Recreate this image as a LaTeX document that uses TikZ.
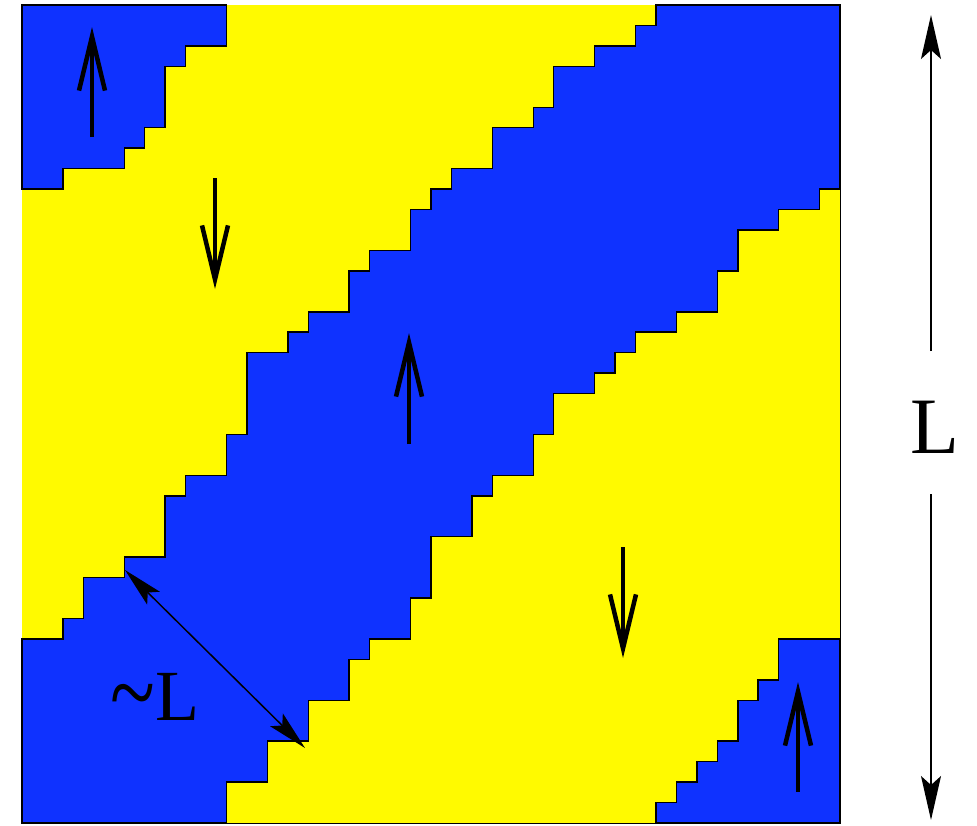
\RequirePackage{fix-cm}
\documentclass[tikz,border=0pt]{standalone}
\usepackage{fontspec}
\newfontfamily\labelfont{Liberation Serif}
\usetikzlibrary{arrows.meta}
\definecolor{spinblue}{RGB}{15,50,255}
\definecolor{spinyellow}{RGB}{255,250,0}
\begin{document}
\begin{tikzpicture}[x=1pt,y=-1pt,
  spindomain/.style={fill=spinblue,draw=black,line width=1.5pt,line join=miter},
  spinarrow/.style={line width=4pt,-{Straight Barb[length=54pt,width=26pt,line width=4.5pt]}},
  dimarrow/.style={line width=1.6pt,-{Stealth[length=44pt,width=20pt,inset=9pt]}},
  distarrow/.style={line width=1.5pt,{Stealth[length=40pt,width=18pt,inset=8pt]}-{Stealth[length=40pt,width=18pt,inset=8pt]}},
  biglabel/.style={inner sep=0pt,anchor=base,font=\labelfont\fontsize{72}{72}\selectfont}]
\useasboundingbox (0,0) rectangle (977,825);
\begin{scope}[xshift=22pt,yshift=-5pt,x=20.45pt,y=-20.45pt]
  % yellow background
  \fill[spinyellow] (0,0) rectangle (40,40);
  % top-left blue domain
  \path[spindomain] (0,0) -- (10,0) -- (10,2) -- (8,2) -- (8,3) -- (7,3) -- (7,6) -- (6,6) -- (6,7) -- (5,7) -- (5,8) -- (2,8) -- (2,9) -- (0,9) -- cycle;
  % central blue band
  \path[spindomain] (31,0) -- (40,0) -- (40,9)
    -- (39,9) -- (39,10) -- (37,10) -- (37,11) -- (35,11) -- (35,13) -- (34,13) -- (34,15) -- (32,15) -- (32,16) -- (30,16) -- (30,17) -- (29,17) -- (29,18) -- (28,18) -- (28,19) -- (26,19) -- (26,21) -- (25,21) -- (25,23) -- (23,23) -- (23,24) -- (22,24) -- (22,26) -- (20,26) -- (20,29) -- (19,29) -- (19,31) -- (17,31) -- (17,32) -- (16,32) -- (16,34) -- (14,34) -- (14,36) -- (12,36) -- (12,38) -- (10,38) -- (10,40)
    -- (0,40) -- (0,31)
    -- (2,31) -- (2,30) -- (3,30) -- (3,28) -- (5,28) -- (5,27) -- (7,27) -- (7,24) -- (8,24) -- (8,23) -- (10,23) -- (10,21) -- (11,21) -- (11,17) -- (13,17) -- (13,16) -- (14,16) -- (14,15) -- (16,15) -- (16,13) -- (17,13) -- (17,12) -- (19,12) -- (19,10) -- (20,10) -- (20,9) -- (21,9) -- (21,8) -- (23,8) -- (23,6) -- (25,6) -- (25,5) -- (26,5) -- (26,3) -- (28,3) -- (28,2) -- (30,2) -- (30,1) -- (31,1) -- cycle;
  % bottom-right blue domain
  \path[spindomain] (40,31) -- (37,31) -- (37,33) -- (36,33) -- (36,34) -- (35,34) -- (35,36) -- (34,36) -- (34,37) -- (33,37) -- (33,38) -- (32,38) -- (32,39) -- (31,39) -- (31,40) -- (40,40) -- cycle;
  % right and bottom frame edges
  \draw[line width=1pt] (40,0) -- (40,40) -- (0,40);
\end{scope}
% spin arrows
\coordinate (s1a) at (92,137);  \coordinate (s1b) at (92,27);
\coordinate (s2a) at (215,178); \coordinate (s2b) at (215,289);
\coordinate (s3a) at (409,444); \coordinate (s3b) at (409,333);
\coordinate (s4a) at (623,547); \coordinate (s4b) at (623,658);
\coordinate (s5a) at (798,792); \coordinate (s5b) at (798,682);
\draw[spinarrow] (s1a) -- (s1b);
\draw[spinarrow] (s2a) -- (s2b);
\draw[spinarrow] (s3a) -- (s3b);
\draw[spinarrow] (s4a) -- (s4b);
\draw[spinarrow] (s5a) -- (s5b);
% domain width
\coordinate (wa) at (125,570);
\coordinate (wb) at (305,748);
\draw[distarrow] (wa) -- (wb);
\node[biglabel] (wlabel) at (155,720) {\raisebox{-7pt}{\scalebox{1.15}[1.45]{\textasciitilde}}L};
% system size
\coordinate (gapTop) at (931,351);
\coordinate (gapBot) at (931,494);
\coordinate (dtop) at (931,15);
\coordinate (dbot) at (931,820);
\draw[dimarrow] (gapTop) -- (dtop);
\draw[dimarrow] (gapBot) -- (dbot);
\node[biglabel,font=\labelfont\fontsize{80}{80}\selectfont] (sizelabel) at (935,453) {L};
\end{tikzpicture}
\end{document}
